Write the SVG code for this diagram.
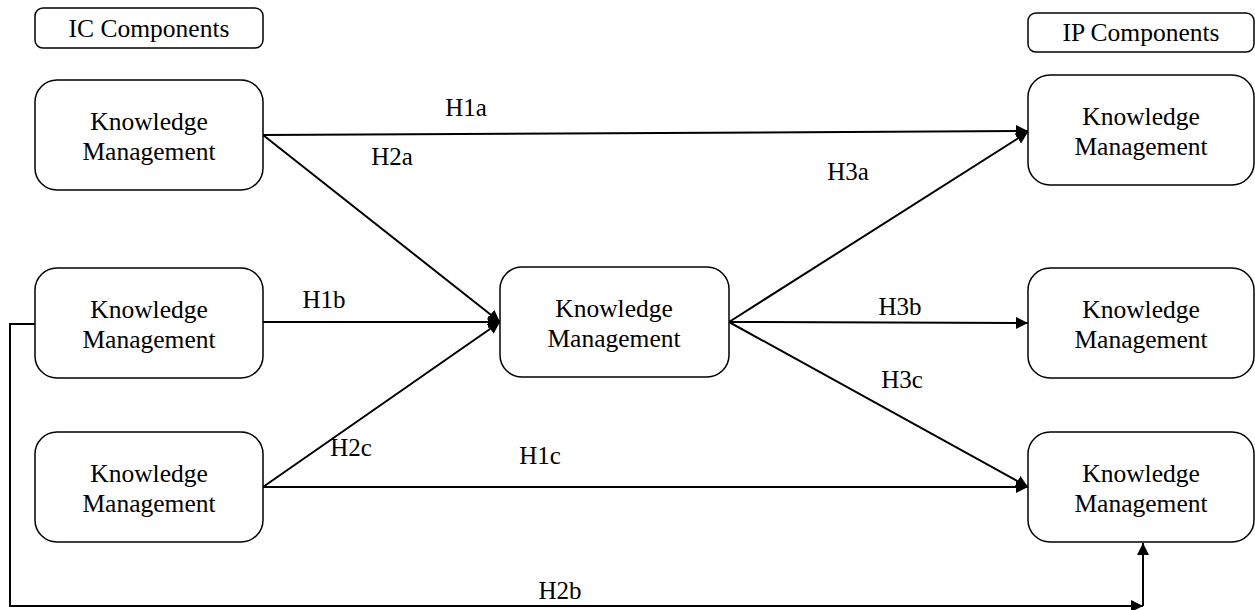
<svg xmlns="http://www.w3.org/2000/svg" width="1255" height="610" viewBox="0 0 1255 610">
<style>
.box{fill:#fff;stroke:#000;stroke-width:1.5}
.t{font-family:'Liberation Serif','DejaVu Serif',serif;font-size:25.5px;fill:#000;text-anchor:middle}
.l{font-family:'Liberation Serif','DejaVu Serif',serif;font-size:25px;fill:#000;text-anchor:middle}
.c{fill:none;stroke:#000;stroke-width:2}
</style>
<defs>
<marker id="arr" viewBox="0 0 10 10" refX="10" refY="5" markerWidth="6" markerHeight="6" orient="auto" markerUnits="strokeWidth">
<path d="M0,0 L10,5 L0,10 z" fill="#000"/>
</marker>
</defs>
<g id="connectors">
<line class="c" x1="263" y1="135" x2="1028" y2="131" marker-end="url(#arr)"/>
<line class="c" x1="263" y1="135" x2="500" y2="322" marker-end="url(#arr)"/>
<line class="c" x1="263" y1="322" x2="500" y2="322" marker-end="url(#arr)"/>
<line class="c" x1="263" y1="487" x2="500" y2="322" marker-end="url(#arr)"/>
<line class="c" x1="263" y1="487" x2="1028" y2="487" marker-end="url(#arr)"/>
<line class="c" x1="729" y1="322" x2="1028" y2="132" marker-end="url(#arr)"/>
<line class="c" x1="729" y1="322" x2="1028" y2="323" marker-end="url(#arr)"/>
<line class="c" x1="729" y1="322" x2="1028" y2="487" marker-end="url(#arr)"/>
<path class="c" d="M35,324 H10 V606 H1143" marker-end="url(#arr)"/>
<line class="c" x1="1143" y1="606" x2="1143" y2="543" marker-end="url(#arr)"/>
<text class="l" x="466" y="116">H1a</text>
<text class="l" x="392" y="165">H2a</text>
<text class="l" x="848" y="180">H3a</text>
<text class="l" x="324" y="308">H1b</text>
<text class="l" x="900" y="315">H3b</text>
<text class="l" x="351" y="456">H2c</text>
<text class="l" x="902" y="388">H3c</text>
<text class="l" x="540" y="464">H1c</text>
<text class="l" x="560" y="599">H2b</text>
</g>
<g id="ic-header"><rect class="box" x="35" y="8" width="228" height="40" rx="8"/><text class="t" x="149" y="37">IC Components</text></g>
<g id="ip-header"><rect class="box" x="1028" y="13" width="226" height="39" rx="8"/><text class="t" x="1141" y="41">IP Components</text></g>
<g id="ic1"><rect class="box" x="35" y="80" width="228" height="110" rx="22"/><text class="t" x="149" y="130">Knowledge</text><text class="t" x="149" y="160">Management</text></g>
<g id="ic2"><rect class="box" x="35" y="268" width="228" height="110" rx="22"/><text class="t" x="149" y="318">Knowledge</text><text class="t" x="149" y="348">Management</text></g>
<g id="ic3"><rect class="box" x="35" y="432" width="228" height="110" rx="22"/><text class="t" x="149" y="482">Knowledge</text><text class="t" x="149" y="512">Management</text></g>
<g id="center"><rect class="box" x="500" y="267" width="229" height="110" rx="22"/><text class="t" x="614" y="317">Knowledge</text><text class="t" x="614" y="347">Management</text></g>
<g id="ip1"><rect class="box" x="1028" y="75" width="226" height="110" rx="22"/><text class="t" x="1141" y="125">Knowledge</text><text class="t" x="1141" y="155">Management</text></g>
<g id="ip2"><rect class="box" x="1028" y="268" width="226" height="110" rx="22"/><text class="t" x="1141" y="318">Knowledge</text><text class="t" x="1141" y="348">Management</text></g>
<g id="ip3"><rect class="box" x="1028" y="432" width="226" height="110" rx="22"/><text class="t" x="1141" y="482">Knowledge</text><text class="t" x="1141" y="512">Management</text></g>
</svg>
